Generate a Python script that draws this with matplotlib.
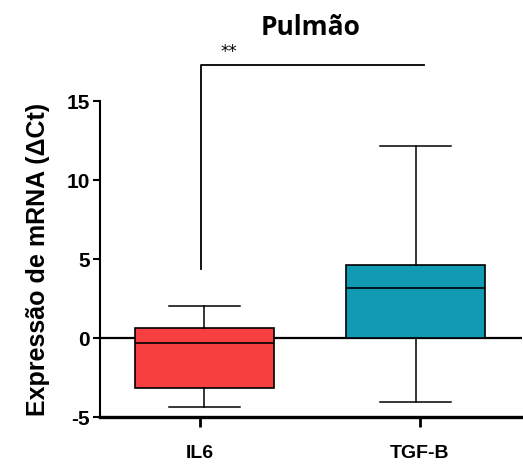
import matplotlib
matplotlib.use('Agg')
import matplotlib.pyplot as plt

plt.rcParams['axes.unicode_minus'] = False

# dados (ΔCt)
grupos = ['IL6', 'TGF-B']
whisker_baixo = [-4.37, -4.05]
q1 = [-3.16, 0.0]
mediana = [-0.3, 3.16]
q3 = [0.63, 4.6]
whisker_alto = [2.0, 12.15]
cores = ['#F84040', '#109AB4']

stats = []
for i in range(len(grupos)):
    stats.append({'label': grupos[i], 'whislo': whisker_baixo[i], 'q1': q1[i],
                  'med': mediana[i], 'q3': q3[i], 'whishi': whisker_alto[i]})

fig = plt.figure(figsize=(5.23, 4.66), dpi=100)
ax = fig.add_axes([0.191, 0.105, 0.807, 0.678])

# linha do zero atrás das caixas
ax.axhline(0, color='black', lw=1.6, zorder=1)

bp = ax.bxp(stats, positions=[1.02, 1.98], widths=0.635, patch_artist=True,
            showfliers=False, capwidths=0.32,
            boxprops=dict(edgecolor='black', linewidth=1.2),
            medianprops=dict(color='black', linewidth=1.2),
            whiskerprops=dict(color='black', linewidth=1.1),
            capprops=dict(color='black', linewidth=1.1))
for patch, cor in zip(bp['boxes'], cores):
    patch.set_facecolor(cor)
    patch.set_zorder(2)

ax.set_xlim(0.545, 2.464)
ax.set_ylim(-5, 15)
ax.set_xticks([1, 2])
ax.set_xticklabels(grupos)
ax.set_yticks([-5, 0, 5, 10, 15])

ax.spines['top'].set_visible(False)
ax.spines['right'].set_visible(False)
ax.spines['left'].set_linewidth(1.5)
ax.spines['bottom'].set_linewidth(2.4)
ax.tick_params(axis='y', length=5, width=1.5, labelsize=15, pad=2)
ax.tick_params(axis='x', length=7, width=2, labelsize=14, pad=13)
for lbl in ax.get_xticklabels() + ax.get_yticklabels():
    lbl.set_fontweight('bold')
    lbl.set_family('Liberation Sans')

ax.set_ylabel('Expressão de mRNA (ΔCt)', fontsize=18, fontweight='bold',
              family='Liberation Sans', labelpad=12)

# barra de significância
ax.plot([1.005, 1.005, 2.02], [4.4, 17.28, 17.28], color='black', lw=1.3,
        clip_on=False)
ax.text(1.13, 18.1, '**', ha='center', va='center', fontsize=12)

fig.text(0.593, 0.942, 'Pulmão', ha='center', va='center', fontsize=19,
         fontweight='bold', family='Open Sans')

plt.savefig('out.png', dpi=100)
